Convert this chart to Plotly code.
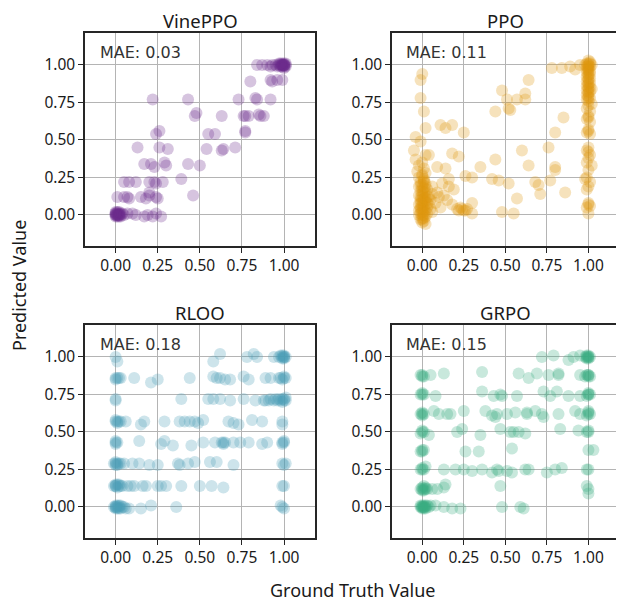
import plotly.graph_objects as go

# value estimates, (ground truth, predicted)
VINE_PTS = [
    (0.00, 0.00), (0.01, 0.00), (0.00, 0.01), (0.02, 0.00), (0.01, -0.01), (0.00, -0.01),
    (0.02, 0.01), (0.03, 0.00), (0.01, 0.02), (0.00, 0.00), (0.03, -0.01), (0.02, -0.01),
    (0.01, 0.01), (0.00, 0.02), (0.02, 0.02), (0.04, 0.01), (0.01, 0.00), (0.02, 0.00),
    (0.00, 0.01), (0.03, 0.01),
    (0.05, 0.00), (0.07, 0.01), (0.10, 0.01), (0.12, 0.00), (0.17, -0.01), (0.19, 0.00),
    (0.24, 0.01), (0.27, -0.01), (0.22, -0.01),
    (0.01, 0.12), (0.05, 0.12), (0.07, 0.12), (0.08, 0.11), (0.15, 0.12), (0.18, 0.11),
    (0.20, 0.13), (0.24, 0.12), (0.25, 0.11), (0.46, 0.13), (0.20, 0.15),
    (0.05, 0.22), (0.08, 0.22), (0.12, 0.22), (0.20, 0.22), (0.23, 0.22), (0.24, 0.21),
    (0.28, 0.22), (0.39, 0.24),
    (0.17, 0.34), (0.21, 0.34), (0.23, 0.32), (0.30, 0.33), (0.29, 0.35), (0.43, 0.34),
    (0.50, 0.33),
    (0.13, 0.45), (0.26, 0.45), (0.31, 0.44), (0.54, 0.44), (0.64, 0.44), (0.63, 0.43),
    (0.71, 0.45),
    (0.26, 0.56), (0.24, 0.54), (0.55, 0.54), (0.59, 0.54), (0.77, 0.55), (0.77, 0.56),
    (0.48, 0.68), (0.47, 0.66), (0.63, 0.66), (0.76, 0.66), (0.77, 0.66), (0.79, 0.66),
    (0.85, 0.67), (0.88, 0.66), (0.86, 0.66),
    (0.22, 0.77), (0.43, 0.77), (0.73, 0.77), (0.83, 0.78), (0.84, 0.77), (0.92, 0.77),
    (0.80, 0.89), (0.92, 0.90), (0.93, 0.89), (0.96, 0.90), (0.99, 0.90),
    (0.84, 1.00), (0.87, 1.00), (0.90, 1.00), (0.92, 0.99), (0.93, 1.00), (0.95, 1.00),
    (0.97, 1.00), (0.96, 0.99),
    (1.00, 1.00), (0.99, 1.00), (1.00, 0.99), (0.98, 1.00), (0.99, 1.01), (1.00, 1.01),
    (0.98, 0.99), (0.99, 0.99), (1.01, 1.00), (1.00, 1.00), (0.97, 1.01), (1.01, 0.99),
    (0.99, 1.00), (1.00, 0.98), (1.00, 1.00), (0.99, 1.00), (1.01, 1.01), (0.98, 1.01),
]

PPO_PTS = [
    # column at ground truth 0
    (0.00, 0.94), (-0.01, 0.90), (-0.01, 0.78), (0.01, 0.69), (0.02, 0.58), (-0.04, 0.52),
    (-0.01, 0.49), (-0.05, 0.43), (0.02, 0.40), (0.04, 0.40), (-0.04, 0.37), (0.00, 0.35),
    (-0.02, 0.33), (0.01, 0.31), (-0.03, 0.29), (0.02, 0.28), (0.00, 0.27),
    (-0.02, 0.25), (0.01, 0.24), (-0.01, 0.22), (0.02, 0.21), (0.00, 0.20),
    (-0.02, 0.19), (0.01, 0.18), (0.03, 0.17), (-0.01, 0.16), (0.02, 0.15),
    (0.00, 0.14), (-0.02, 0.13), (0.03, 0.12), (0.01, 0.11), (-0.01, 0.10),
    (0.02, 0.09), (0.00, 0.08), (-0.02, 0.07), (0.04, 0.07), (0.01, 0.06),
    (-0.01, 0.05), (0.03, 0.05), (0.00, 0.04), (-0.02, 0.03), (0.02, 0.03),
    (0.01, 0.02), (-0.01, 0.01), (0.03, 0.01), (0.00, 0.00), (-0.02, 0.00),
    (0.02, -0.01), (0.00, -0.02), (-0.01, -0.03), (0.01, -0.04), (0.00, -0.05),
    (0.02, -0.06), (-0.01, 0.12), (0.00, 0.16), (0.01, 0.22), (-0.01, 0.04),
    (0.05, 0.10), (0.06, 0.14), (0.05, 0.04), (0.04, 0.12), (0.06, 0.02),
    (0.00, 0.26), (0.01, 0.23), (-0.01, 0.20), (0.00, 0.18), (0.01, 0.15), (0.00, 0.12),
    (0.01, 0.09), (0.00, 0.06), (0.01, 0.04), (0.00, 0.02), (0.01, 0.00), (0.00, -0.03),
    (0.02, 0.19), (0.03, 0.08), (0.02, 0.11), (-0.01, 0.08), (0.01, -0.02), (0.00, 0.10),
    # tail near the bottom
    (0.06, 0.19), (0.10, 0.12), (0.13, 0.13), (0.08, 0.08), (0.18, 0.07), (0.21, 0.04),
    (0.22, 0.03), (0.24, 0.04), (0.27, 0.04), (0.26, 0.03), (0.30, 0.08), (0.30, 0.01),
    (0.16, 0.19), (0.19, 0.17), (0.12, 0.21), (0.15, 0.10), (0.11, 0.05), (0.09, 0.15),
    (0.23, 0.05), (0.25, 0.03),
    # scattered middle
    (0.11, 0.60), (0.14, 0.58), (0.18, 0.60), (0.25, 0.55), (0.18, 0.41), (0.22, 0.39),
    (0.09, 0.32), (0.14, 0.31), (0.16, 0.24), (0.26, 0.26), (0.30, 0.25), (0.35, 0.32),
    (0.44, 0.37), (0.42, 0.24), (0.46, 0.23), (0.52, 0.21), (0.48, 0.02), (0.55, 0.01),
    (0.57, 0.11), (0.60, 0.43), (0.64, 0.33), (0.68, 0.22), (0.70, 0.20), (0.71, 0.14),
    (0.77, 0.23), (0.80, 0.30), (0.80, 0.32), (0.86, 0.15), (0.76, 0.45), (0.80, 0.55),
    (0.85, 0.65),
    (0.44, 0.69), (0.48, 0.83), (0.51, 0.77), (0.52, 0.71), (0.53, 0.70), (0.57, 0.77),
    (0.62, 0.77), (0.62, 0.81), (0.64, 0.90), (0.78, 0.98), (0.84, 0.98), (0.89, 0.99),
    (0.92, 0.97), (0.95, 1.00),
    # column at ground truth 1
    (1.00, 1.00), (0.99, 1.01), (1.01, 0.99), (1.00, 0.98), (0.99, 0.97), (1.01, 1.02),
    (1.00, 0.96), (0.99, 0.95), (1.01, 0.94), (1.00, 0.93), (0.99, 0.92), (1.01, 0.91),
    (1.00, 0.90), (0.99, 0.89), (1.01, 0.88), (1.00, 0.87), (0.99, 0.86), (1.01, 0.85),
    (1.00, 0.84), (0.99, 0.83), (1.01, 0.82), (1.00, 0.81), (0.99, 0.80), (1.00, 0.79),
    (1.01, 0.78), (0.99, 0.77), (1.00, 0.76), (1.00, 1.03), (0.98, 1.00), (1.02, 1.00),
    (1.00, 0.99), (1.00, 0.97), (1.01, 0.96), (1.00, 0.94), (1.00, 0.91), (1.00, 0.88),
    (1.00, 0.85), (1.00, 0.82), (1.00, 0.78), (1.00, 1.01), (0.99, 0.99), (1.01, 1.01),
    (1.00, 0.73), (0.99, 0.71), (1.01, 0.69),
    (1.00, 0.66), (0.99, 0.64), (1.01, 0.62), (1.00, 0.57), (0.99, 0.55), (1.01, 0.54),
    (1.00, 0.56), (1.00, 0.45), (0.99, 0.43), (1.01, 0.40), (1.00, 0.38), (0.99, 0.35),
    (1.02, 0.33), (1.00, 0.30), (0.99, 0.25), (1.01, 0.22), (1.00, 0.19), (0.99, 0.17),
    (1.00, 0.08), (1.01, 0.06), (0.99, 0.05), (1.00, 0.01), (0.98, 0.24), (1.02, 0.84),
    (1.02, 0.74), (1.00, 0.65), (1.00, 0.42), (1.00, 0.07),
]

RLOO_PTS = [
    # level 1
    (0.00, 1.00), (0.01, 0.97), (0.62, 1.02), (0.58, 0.97), (0.78, 1.00), (0.82, 1.02),
    (0.84, 1.00), (0.94, 1.00), (0.97, 1.00), (0.98, 1.01), (0.99, 1.00), (1.00, 1.00),
    (1.00, 1.01), (1.01, 1.00), (0.99, 0.99), (1.00, 0.99), (1.00, 1.00), (0.99, 1.01),
    # level 6/7
    (0.00, 0.86), (0.01, 0.86), (0.00, 0.85), (0.02, 0.86), (0.03, 0.86), (0.11, 0.86),
    (0.21, 0.83), (0.25, 0.85), (0.44, 0.86), (0.58, 0.87), (0.60, 0.86), (0.62, 0.86),
    (0.65, 0.85), (0.68, 0.85), (0.76, 0.87), (0.79, 0.85), (0.89, 0.86), (0.92, 0.86),
    (0.97, 0.86), (0.98, 0.86), (0.99, 0.85), (1.00, 0.86), (1.00, 0.87), (1.01, 0.86),
    # level 5/7
    (0.00, 0.71), (0.00, 0.72), (0.39, 0.72), (0.55, 0.72), (0.58, 0.72), (0.62, 0.72),
    (0.68, 0.71), (0.76, 0.72), (0.83, 0.71), (0.88, 0.71), (0.89, 0.71), (0.91, 0.71),
    (0.92, 0.72), (0.94, 0.71), (0.96, 0.71), (0.97, 0.72), (0.98, 0.71), (0.99, 0.72),
    (1.00, 0.71), (1.00, 0.72), (1.01, 0.71), (1.01, 0.73), (0.99, 0.70), (0.95, 0.72),
    # level 4/7
    (0.00, 0.57), (0.01, 0.57), (0.00, 0.58), (0.02, 0.57), (0.03, 0.57), (0.06, 0.57),
    (0.15, 0.55), (0.17, 0.57), (0.29, 0.57), (0.38, 0.57), (0.41, 0.57), (0.44, 0.57),
    (0.47, 0.57), (0.52, 0.58), (0.49, 0.56), (0.67, 0.57), (0.70, 0.56), (0.73, 0.55),
    (0.81, 0.58), (0.87, 0.57), (0.99, 0.57), (0.99, 0.55), (0.01, 0.56),
    # level 3/7
    (0.00, 0.43), (0.00, 0.42), (0.01, 0.43), (0.00, 0.44), (0.14, 0.44), (0.27, 0.42),
    (0.29, 0.44), (0.34, 0.41), (0.45, 0.41), (0.52, 0.43), (0.59, 0.43), (0.63, 0.43),
    (0.64, 0.42), (0.64, 0.43), (0.70, 0.43), (0.74, 0.43), (0.79, 0.43), (0.87, 0.42),
    (0.90, 0.43), (0.99, 0.43), (1.00, 0.43), (0.99, 0.42), (1.00, 0.44), (0.65, 0.43),
    # level 2/7
    (0.00, 0.29), (-0.01, 0.29), (0.01, 0.29), (0.00, 0.28), (0.02, 0.29), (0.03, 0.29),
    (0.05, 0.29), (0.10, 0.29), (0.14, 0.29), (0.20, 0.28), (0.25, 0.28), (0.37, 0.29),
    (0.38, 0.28), (0.43, 0.29), (0.47, 0.30), (0.56, 0.30), (0.60, 0.30), (0.70, 0.28),
    (0.99, 0.29), (1.00, 0.28), (1.01, 0.29), (0.01, 0.28), (0.00, 0.30),
    # level 1/7
    (0.00, 0.14), (-0.01, 0.14), (0.01, 0.15), (0.00, 0.15), (0.02, 0.14), (0.03, 0.14),
    (0.04, 0.14), (0.07, 0.14), (0.09, 0.14), (0.11, 0.14), (0.16, 0.14), (0.18, 0.14),
    (0.25, 0.14), (0.27, 0.14), (0.30, 0.14), (0.39, 0.14), (0.50, 0.14), (0.57, 0.14),
    (0.64, 0.13), (0.99, 0.14), (1.00, 0.14), (0.01, 0.13), (0.00, 0.14), (0.02, 0.15),
    # level 0
    (0.00, 0.00), (-0.01, 0.00), (0.01, 0.00), (0.00, 0.01), (0.01, -0.01), (0.02, 0.00),
    (0.03, 0.01), (0.00, -0.01), (0.02, -0.01), (0.04, 0.00), (0.05, 0.00), (0.06, -0.01),
    (0.08, -0.01), (0.15, -0.01), (0.21, 0.01), (0.36, 0.00), (0.98, 0.01), (1.00, -0.01),
    (0.99, 0.00), (0.01, 0.01), (0.00, 0.00), (0.02, 0.01), (0.03, -0.01),
]

GRPO_PTS = [
    # level 1
    (0.72, 1.00), (0.79, 1.01), (0.88, 0.98), (0.91, 1.00), (0.95, 1.01), (0.99, 1.00),
    (1.00, 1.00), (1.00, 1.01), (0.99, 0.99), (1.01, 1.00), (1.00, 0.99), (0.98, 1.00),
    (1.00, 1.00), (0.99, 1.01),
    # level 7/8
    (0.00, 0.88), (0.01, 0.87), (0.00, 0.87), (-0.01, 0.88), (0.05, 0.88), (0.13, 0.89),
    (0.36, 0.90), (0.58, 0.89), (0.64, 0.86), (0.69, 0.89), (0.76, 0.88), (0.82, 0.88),
    (0.82, 0.89), (0.95, 0.88), (0.99, 0.88), (1.00, 0.87), (1.00, 0.88), (1.01, 0.87),
    (0.98, 0.87), (1.00, 0.88),
    # level 6/8
    (0.00, 0.75), (0.00, 0.76), (0.01, 0.75), (-0.01, 0.75), (0.08, 0.74), (0.36, 0.77),
    (0.43, 0.74), (0.47, 0.75), (0.48, 0.74), (0.57, 0.74), (0.73, 0.77), (0.77, 0.74),
    (0.81, 0.77), (0.88, 0.74), (0.95, 0.74), (1.00, 0.75), (1.00, 0.76), (1.01, 0.75),
    (0.99, 0.74), (1.00, 0.75),
    # level 5/8
    (0.00, 0.62), (0.00, 0.63), (0.01, 0.62), (-0.01, 0.62), (0.00, 0.61), (0.07, 0.64),
    (0.10, 0.62), (0.15, 0.62), (0.17, 0.62), (0.25, 0.64), (0.38, 0.64), (0.42, 0.61),
    (0.44, 0.60), (0.45, 0.62), (0.51, 0.62), (0.56, 0.63), (0.63, 0.63), (0.63, 0.62),
    (0.68, 0.64), (0.72, 0.62), (0.73, 0.60), (0.82, 0.62), (0.92, 0.64), (0.95, 0.62),
    (1.00, 0.62), (1.00, 0.63), (1.01, 0.62), (0.99, 0.61), (1.00, 0.64),
    # level 4/8
    (0.00, 0.50), (0.00, 0.51), (0.01, 0.50), (-0.01, 0.49), (0.04, 0.48), (0.21, 0.50),
    (0.24, 0.52), (0.35, 0.48), (0.47, 0.52), (0.53, 0.50), (0.55, 0.50), (0.58, 0.50),
    (0.62, 0.49), (0.83, 0.52), (0.94, 0.51), (1.00, 0.50), (1.00, 0.51), (0.99, 0.50),
    # level 3/8
    (0.00, 0.38), (0.00, 0.37), (0.01, 0.38), (-0.01, 0.37), (0.26, 0.37), (0.34, 0.37),
    (0.54, 0.39), (1.00, 0.38), (1.03, 0.38),
    # level 2/8
    (0.00, 0.25), (0.00, 0.26), (0.01, 0.25), (-0.01, 0.25), (0.02, 0.27), (0.13, 0.25),
    (0.20, 0.25), (0.25, 0.25), (0.30, 0.24), (0.36, 0.25), (0.42, 0.23), (0.45, 0.25),
    (0.46, 0.24), (0.51, 0.24), (0.54, 0.23), (0.62, 0.25), (0.64, 0.25), (0.75, 0.23),
    (0.80, 0.25), (0.84, 0.26), (0.99, 0.25), (1.00, 0.25),
    # level 1/8
    (0.00, 0.12), (0.00, 0.13), (0.01, 0.12), (-0.01, 0.12), (0.02, 0.13), (0.00, 0.11),
    (0.03, 0.12), (0.01, 0.14), (0.06, 0.12), (0.09, 0.12), (0.13, 0.13), (0.14, 0.15),
    (0.47, 0.14), (0.99, 0.14), (1.00, 0.09), (1.00, 0.12), (0.01, 0.11), (0.02, 0.12),
    # level 0
    (0.00, 0.00), (0.00, 0.01), (0.01, 0.00), (-0.01, 0.00), (0.02, 0.00), (0.01, -0.01),
    (0.00, -0.01), (0.03, 0.01), (0.02, 0.01), (-0.01, 0.01), (0.04, 0.00), (0.01, 0.01),
    (0.05, 0.01), (0.08, 0.01), (0.13, 0.00), (0.18, -0.01), (0.23, -0.01), (0.48, 0.00),
    (0.59, 0.00), (0.61, -0.01), (0.00, 0.00), (0.01, 0.00), (0.02, -0.01),
]

METHODS = ["VinePPO", "PPO", "RLOO", "GRPO"]
MAE = [0.03, 0.11, 0.18, 0.15]
POINTS = [VINE_PTS, PPO_PTS, RLOO_PTS, GRPO_PTS]
COLORS = ["#6a2a8c", "#e0980f", "#4a9fb8", "#3aab80"]

TICKS = [0.0, 0.25, 0.5, 0.75, 1.0]
TICK_LABELS = ["0.00", "0.25", "0.50", "0.75", "1.00"]

# the page puts the plot 8px in from the top-left corner, so the figure is
# made that much smaller and all pixel positions below are page positions
OFF = 8
W, H = 624 - OFF, 603 - OFF
# panel boxes in page pixels (left, right, top, bottom)
BOXES = [(85, 315, 33, 246), (392, 619, 33, 246), (85, 315, 325, 538), (392, 619, 325, 538)]


def px(xp):
    return (xp - OFF) / W


def py(yp):
    return 1 - (yp - OFF) / H


FONT = "Noto Sans"

fig = go.Figure()
annotations = []
layout_axes = {}

for i, (name, pts, mae, color, box) in enumerate(zip(METHODS, POINTS, MAE, COLORS, BOXES)):
    n = "" if i == 0 else str(i + 1)
    xs, ys = zip(*pts)
    fig.add_trace(go.Scatter(
        x=xs, y=ys, mode="markers", xaxis="x" + n, yaxis="y" + n,
        marker=dict(size=12, color=color, opacity=0.28, line=dict(width=0)),
        showlegend=False, hoverinfo="skip",
    ))
    l, r, t, b = box
    common = dict(
        tickvals=TICKS, ticktext=TICK_LABELS, showgrid=True, gridcolor="#b4b4b4",
        gridwidth=1, showline=True, linecolor="#262626", linewidth=1.5, mirror=True,
        ticks="outside", ticklen=5, tickwidth=1, tickcolor="#262626", zeroline=False,
        tickfont=dict(family=FONT, size=15.5, color="#1a1a1a"), fixedrange=True,
    )
    layout_axes["xaxis" + n] = dict(common, domain=[px(l), px(r)], anchor="y" + n,
                                    range=[-0.182, 1.184])
    layout_axes["yaxis" + n] = dict(common, domain=[py(b), py(t)], anchor="x" + n,
                                    range=[-0.207, 1.213])
    annotations.append(dict(
        text=name, xref="paper", yref="paper", x=px((l + r) / 2), y=py(t - 13),
        showarrow=False, font=dict(family=FONT, size=18.5, color="#1a1a1a"),
        xanchor="center", yanchor="middle",
    ))
    annotations.append(dict(
        text=f"MAE: {mae:.2f}", xref="x" + n + " domain", yref="y" + n + " domain",
        x=0.055, y=0.91, showarrow=False, xanchor="left", yanchor="middle",
        font=dict(family="DejaVu Sans", size=16, color="#333333"),
    ))

annotations.append(dict(
    text="Predicted Value", xref="paper", yref="paper", x=px(19), y=py(286),
    textangle=-90, showarrow=False, xanchor="center", yanchor="middle",
    font=dict(family=FONT, size=18, color="#1a1a1a"),
))
annotations.append(dict(
    text="Ground Truth Value", xref="paper", yref="paper", x=px(353), y=py(590),
    showarrow=False, xanchor="center", yanchor="middle",
    font=dict(family=FONT, size=18, color="#1a1a1a"),
))

fig.update_layout(
    width=W, height=H, margin=dict(l=0, r=0, t=0, b=0),
    paper_bgcolor="white", plot_bgcolor="white",
    annotations=annotations, **layout_axes,
)

fig.write_html("out.html")
